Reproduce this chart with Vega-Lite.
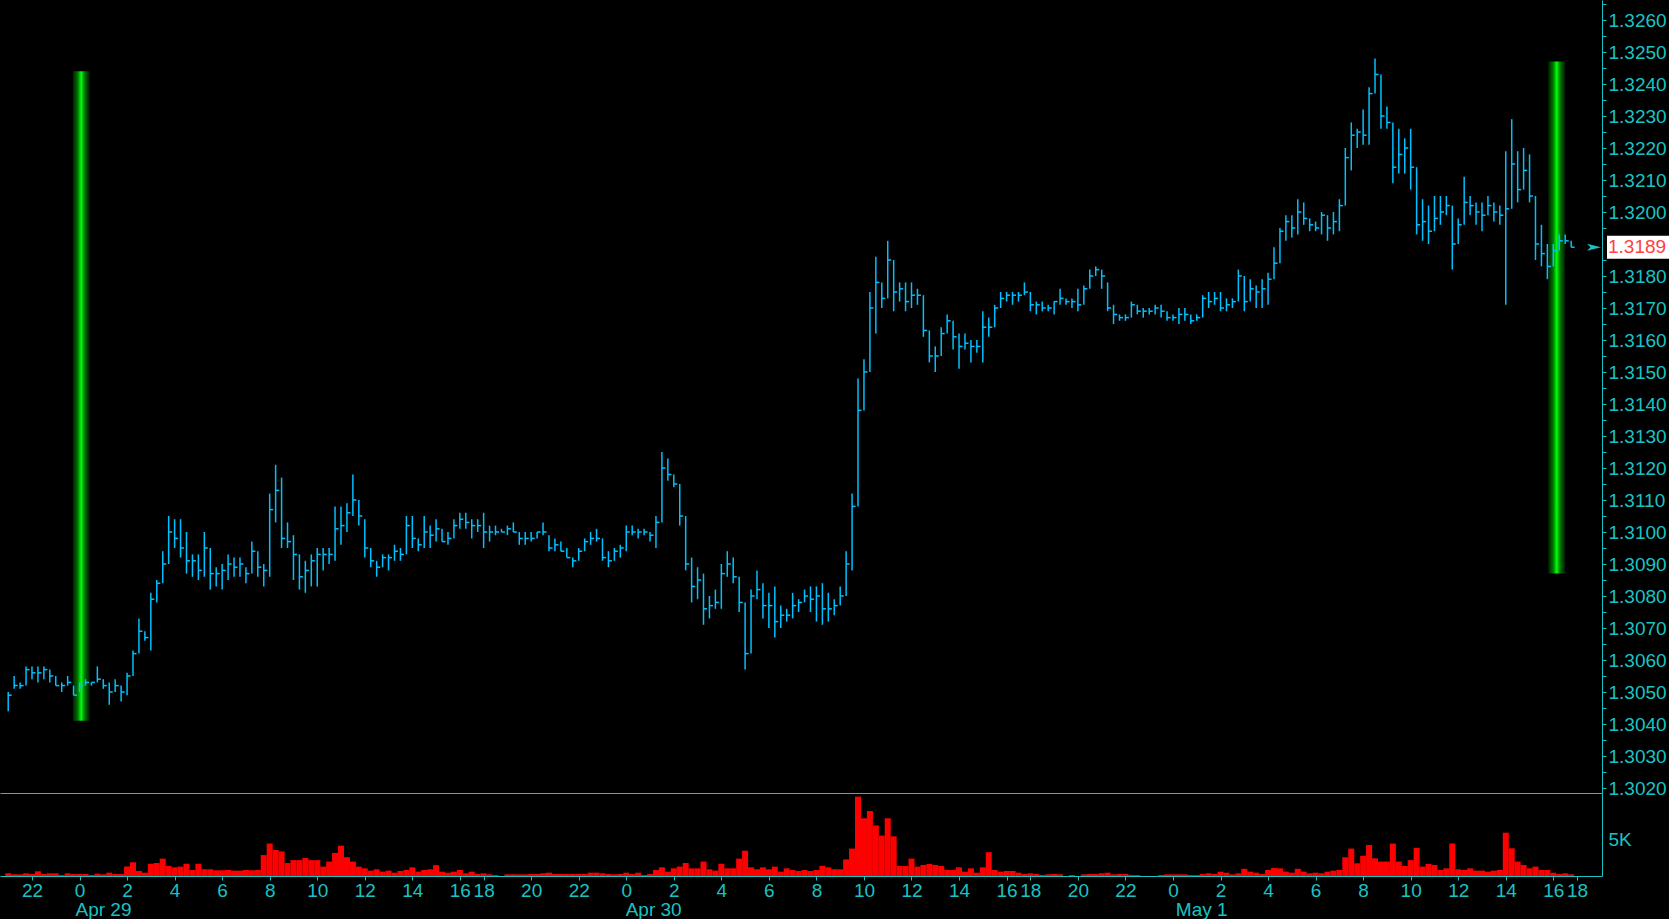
{
  "$schema": "https://vega.github.io/schema/vega-lite/v6.json",
  "description": "Intraday price bars with volume, Apr 29 - May 1, 15-minute bars",
  "background": "#000000",
  "padding": 0,
  "spacing": 0,
  "bounds": "flush",
  "config": {
    "view": {"stroke": null},
    "axis": {"labelFont": "Liberation Sans", "labelFontSize": 19, "labelColor": "#19c3c3", "domainColor": "#19c3c3", "tickColor": "#19c3c3", "grid": false, "title": null}
  },
  "datasets": {
    "bars": [
      {"t":-3,"h":1.305,"l":1.3044,"c":1.3049,"v":370},
      {"t":-2.75,"h":1.3055,"l":1.3051,"c":1.3052,"v":230},
      {"t":-2.5,"h":1.3053,"l":1.3051,"c":1.3052,"v":230},
      {"t":-2.25,"h":1.3058,"l":1.3052,"c":1.3057,"v":370},
      {"t":-2,"h":1.3058,"l":1.3054,"c":1.3056,"v":280},
      {"t":-1.75,"h":1.3058,"l":1.3053,"c":1.3056,"v":650},
      {"t":-1.5,"h":1.3058,"l":1.3054,"c":1.3057,"v":280},
      {"t":-1.25,"h":1.3057,"l":1.3053,"c":1.3055,"v":370},
      {"t":-1,"h":1.3055,"l":1.3052,"c":1.3052,"v":370},
      {"t":-0.75,"h":1.3053,"l":1.305,"c":1.3052,"v":140},
      {"t":-0.5,"h":1.3055,"l":1.3052,"c":1.3053,"v":370},
      {"t":-0.25,"h":1.3052,"l":1.3049,"c":1.3049,"v":280},
      {"t":0,"h":1.3053,"l":1.305,"c":1.3052,"v":280},
      {"t":0.25,"h":1.3054,"l":1.3052,"c":1.3053,"v":280},
      {"t":0.5,"h":1.3053,"l":1.3052,"c":1.3053,"v":140},
      {"t":0.75,"h":1.3058,"l":1.3053,"c":1.3054,"v":320},
      {"t":1,"h":1.3054,"l":1.3051,"c":1.3052,"v":230},
      {"t":1.25,"h":1.3053,"l":1.3046,"c":1.305,"v":460},
      {"t":1.5,"h":1.3054,"l":1.305,"c":1.3052,"v":280},
      {"t":1.75,"h":1.3052,"l":1.3047,"c":1.305,"v":280},
      {"t":2,"h":1.3056,"l":1.3049,"c":1.3055,"v":1300},
      {"t":2.25,"h":1.3063,"l":1.3055,"c":1.3062,"v":1900},
      {"t":2.5,"h":1.3073,"l":1.3062,"c":1.3069,"v":700},
      {"t":2.75,"h":1.3069,"l":1.3066,"c":1.3067,"v":460},
      {"t":3,"h":1.3081,"l":1.3063,"c":1.3079,"v":1700},
      {"t":3.25,"h":1.3085,"l":1.3078,"c":1.3084,"v":1800},
      {"t":3.5,"h":1.3094,"l":1.3084,"c":1.309,"v":2400},
      {"t":3.75,"h":1.3105,"l":1.309,"c":1.31,"v":1400},
      {"t":4,"h":1.3104,"l":1.3095,"c":1.3098,"v":1200},
      {"t":4.25,"h":1.3104,"l":1.3092,"c":1.3095,"v":1300},
      {"t":4.5,"h":1.31,"l":1.3087,"c":1.3091,"v":1700},
      {"t":4.75,"h":1.3093,"l":1.3086,"c":1.3091,"v":830},
      {"t":5,"h":1.3093,"l":1.3085,"c":1.3088,"v":1700},
      {"t":5.25,"h":1.31,"l":1.3086,"c":1.3095,"v":930},
      {"t":5.5,"h":1.3095,"l":1.3082,"c":1.3087,"v":930},
      {"t":5.75,"h":1.3089,"l":1.3083,"c":1.3087,"v":790},
      {"t":6,"h":1.309,"l":1.3082,"c":1.3088,"v":790},
      {"t":6.25,"h":1.3093,"l":1.3085,"c":1.309,"v":830},
      {"t":6.5,"h":1.3092,"l":1.3086,"c":1.3089,"v":740},
      {"t":6.75,"h":1.3092,"l":1.3086,"c":1.309,"v":740},
      {"t":7,"h":1.3089,"l":1.3084,"c":1.3087,"v":830},
      {"t":7.25,"h":1.3097,"l":1.3087,"c":1.3094,"v":790},
      {"t":7.5,"h":1.3094,"l":1.3086,"c":1.3089,"v":830},
      {"t":7.75,"h":1.309,"l":1.3083,"c":1.3088,"v":2900},
      {"t":8,"h":1.3112,"l":1.3086,"c":1.3107,"v":4500},
      {"t":8.25,"h":1.3121,"l":1.3103,"c":1.3113,"v":3600},
      {"t":8.5,"h":1.3117,"l":1.3095,"c":1.3098,"v":3400},
      {"t":8.75,"h":1.3103,"l":1.3095,"c":1.3097,"v":1800},
      {"t":9,"h":1.3099,"l":1.3085,"c":1.3093,"v":2200},
      {"t":9.25,"h":1.3093,"l":1.3082,"c":1.3086,"v":2200},
      {"t":9.5,"h":1.3091,"l":1.3081,"c":1.3088,"v":2500},
      {"t":9.75,"h":1.3093,"l":1.3083,"c":1.3091,"v":2200},
      {"t":10,"h":1.3095,"l":1.3083,"c":1.3093,"v":2200},
      {"t":10.25,"h":1.3095,"l":1.3088,"c":1.3093,"v":1300},
      {"t":10.5,"h":1.3095,"l":1.309,"c":1.3093,"v":2000},
      {"t":10.75,"h":1.3108,"l":1.3091,"c":1.3101,"v":3200},
      {"t":11,"h":1.3108,"l":1.3096,"c":1.3102,"v":4200},
      {"t":11.25,"h":1.3109,"l":1.31,"c":1.3106,"v":2600},
      {"t":11.5,"h":1.3118,"l":1.3105,"c":1.311,"v":2000},
      {"t":11.75,"h":1.311,"l":1.3102,"c":1.3105,"v":1300},
      {"t":12,"h":1.3104,"l":1.3092,"c":1.3095,"v":1060},
      {"t":12.25,"h":1.3095,"l":1.3089,"c":1.3091,"v":740},
      {"t":12.5,"h":1.3091,"l":1.3086,"c":1.3089,"v":930},
      {"t":12.75,"h":1.3093,"l":1.3089,"c":1.3092,"v":600},
      {"t":13,"h":1.3093,"l":1.3088,"c":1.3092,"v":740},
      {"t":13.25,"h":1.3096,"l":1.3091,"c":1.3094,"v":460},
      {"t":13.5,"h":1.3095,"l":1.3091,"c":1.3093,"v":690},
      {"t":13.75,"h":1.3105,"l":1.3093,"c":1.3102,"v":830},
      {"t":14,"h":1.3105,"l":1.3095,"c":1.3098,"v":1200},
      {"t":14.25,"h":1.3098,"l":1.3094,"c":1.3096,"v":600},
      {"t":14.5,"h":1.3105,"l":1.3095,"c":1.31,"v":830},
      {"t":14.75,"h":1.3102,"l":1.3095,"c":1.3099,"v":930},
      {"t":15,"h":1.3104,"l":1.3097,"c":1.3101,"v":1500},
      {"t":15.25,"h":1.3101,"l":1.3097,"c":1.3097,"v":600},
      {"t":15.5,"h":1.31,"l":1.3096,"c":1.3098,"v":460},
      {"t":15.75,"h":1.3104,"l":1.3098,"c":1.3102,"v":600},
      {"t":16,"h":1.3106,"l":1.3101,"c":1.3104,"v":830},
      {"t":16.25,"h":1.3106,"l":1.3101,"c":1.3103,"v":370},
      {"t":16.5,"h":1.3104,"l":1.3098,"c":1.3102,"v":600},
      {"t":16.75,"h":1.3104,"l":1.31,"c":1.3102,"v":280},
      {"t":17,"h":1.3106,"l":1.3095,"c":1.31,"v":370},
      {"t":17.25,"h":1.3102,"l":1.3097,"c":1.31,"v":230},
      {"t":17.5,"h":1.3102,"l":1.3099,"c":1.31,"v":140},
      {"t":17.75,"h":1.3101,"l":1.31,"c":1.31,"v":0},
      {"t":18,"h":1.3102,"l":1.3099,"c":1.3101,"v":230},
      {"t":18.25,"h":1.3103,"l":1.31,"c":1.31,"v":230},
      {"t":18.5,"h":1.31,"l":1.3096,"c":1.3098,"v":230},
      {"t":18.75,"h":1.31,"l":1.3096,"c":1.3098,"v":230},
      {"t":19,"h":1.31,"l":1.3097,"c":1.3098,"v":280},
      {"t":19.25,"h":1.31,"l":1.3098,"c":1.31,"v":280},
      {"t":19.5,"h":1.3103,"l":1.3099,"c":1.31,"v":370},
      {"t":19.75,"h":1.3099,"l":1.3094,"c":1.3095,"v":460},
      {"t":20,"h":1.3098,"l":1.3094,"c":1.3096,"v":280},
      {"t":20.25,"h":1.3097,"l":1.3094,"c":1.3094,"v":280},
      {"t":20.5,"h":1.3095,"l":1.3092,"c":1.3092,"v":280},
      {"t":20.75,"h":1.3092,"l":1.3089,"c":1.3091,"v":280},
      {"t":21,"h":1.3095,"l":1.3091,"c":1.3094,"v":280},
      {"t":21.25,"h":1.3098,"l":1.3094,"c":1.3097,"v":280},
      {"t":21.5,"h":1.31,"l":1.3096,"c":1.3098,"v":460},
      {"t":21.75,"h":1.3101,"l":1.3097,"c":1.3098,"v":460},
      {"t":22,"h":1.3098,"l":1.3091,"c":1.3092,"v":370},
      {"t":22.25,"h":1.3094,"l":1.3089,"c":1.3091,"v":280},
      {"t":22.5,"h":1.3095,"l":1.3091,"c":1.3094,"v":230},
      {"t":22.75,"h":1.3096,"l":1.3092,"c":1.3095,"v":280},
      {"t":23,"h":1.3102,"l":1.3094,"c":1.31,"v":460},
      {"t":23.25,"h":1.3102,"l":1.3099,"c":1.31,"v":280},
      {"t":23.5,"h":1.3101,"l":1.3098,"c":1.31,"v":460},
      {"t":23.75,"h":1.3101,"l":1.3099,"c":1.31,"v":140},
      {"t":24,"h":1.31,"l":1.3097,"c":1.3099,"v":280},
      {"t":24.25,"h":1.3105,"l":1.3095,"c":1.3103,"v":830},
      {"t":24.5,"h":1.3125,"l":1.3103,"c":1.312,"v":1200},
      {"t":24.75,"h":1.3123,"l":1.3116,"c":1.3118,"v":600},
      {"t":25,"h":1.3118,"l":1.3114,"c":1.3115,"v":1060},
      {"t":25.25,"h":1.3115,"l":1.3102,"c":1.3105,"v":1300},
      {"t":25.5,"h":1.3105,"l":1.3088,"c":1.309,"v":1800},
      {"t":25.75,"h":1.3092,"l":1.3078,"c":1.3083,"v":1060},
      {"t":26,"h":1.3089,"l":1.3079,"c":1.3085,"v":1060},
      {"t":26.25,"h":1.3087,"l":1.3071,"c":1.3076,"v":2000},
      {"t":26.5,"h":1.308,"l":1.3073,"c":1.3077,"v":930},
      {"t":26.75,"h":1.3082,"l":1.3076,"c":1.3078,"v":740},
      {"t":27,"h":1.309,"l":1.3076,"c":1.3087,"v":1700},
      {"t":27.25,"h":1.3094,"l":1.3086,"c":1.309,"v":1060},
      {"t":27.5,"h":1.3092,"l":1.3084,"c":1.3086,"v":1060},
      {"t":27.75,"h":1.3086,"l":1.3075,"c":1.3078,"v":2400},
      {"t":28,"h":1.3078,"l":1.3057,"c":1.3062,"v":3500},
      {"t":28.25,"h":1.3082,"l":1.3062,"c":1.308,"v":1200},
      {"t":28.5,"h":1.3088,"l":1.3079,"c":1.3082,"v":930},
      {"t":28.75,"h":1.3084,"l":1.3073,"c":1.3077,"v":1200},
      {"t":29,"h":1.3081,"l":1.307,"c":1.3077,"v":930},
      {"t":29.25,"h":1.3083,"l":1.3067,"c":1.3072,"v":1300},
      {"t":29.5,"h":1.3077,"l":1.307,"c":1.3074,"v":600},
      {"t":29.75,"h":1.3076,"l":1.3072,"c":1.3074,"v":1060},
      {"t":30,"h":1.3081,"l":1.3073,"c":1.3077,"v":830},
      {"t":30.25,"h":1.3079,"l":1.3075,"c":1.3078,"v":690},
      {"t":30.5,"h":1.3082,"l":1.3078,"c":1.308,"v":830},
      {"t":30.75,"h":1.3083,"l":1.3075,"c":1.3079,"v":690},
      {"t":31,"h":1.3083,"l":1.3072,"c":1.308,"v":830},
      {"t":31.25,"h":1.3084,"l":1.3071,"c":1.3076,"v":1400},
      {"t":31.5,"h":1.3081,"l":1.3072,"c":1.3076,"v":1200},
      {"t":31.75,"h":1.3079,"l":1.3074,"c":1.3077,"v":930},
      {"t":32,"h":1.3083,"l":1.3077,"c":1.308,"v":930},
      {"t":32.25,"h":1.3094,"l":1.308,"c":1.309,"v":2300},
      {"t":32.5,"h":1.3112,"l":1.3088,"c":1.3108,"v":3800},
      {"t":32.75,"h":1.3148,"l":1.3108,"c":1.3138,"v":11000},
      {"t":33,"h":1.3154,"l":1.3138,"c":1.315,"v":8000},
      {"t":33.25,"h":1.3175,"l":1.315,"c":1.317,"v":9000},
      {"t":33.5,"h":1.3186,"l":1.3162,"c":1.3178,"v":7000},
      {"t":33.75,"h":1.3178,"l":1.317,"c":1.3173,"v":5600},
      {"t":34,"h":1.3191,"l":1.3173,"c":1.3185,"v":8000},
      {"t":34.25,"h":1.3185,"l":1.3169,"c":1.3175,"v":5500},
      {"t":34.5,"h":1.3178,"l":1.3172,"c":1.3176,"v":1400},
      {"t":34.75,"h":1.3178,"l":1.3169,"c":1.3172,"v":1400},
      {"t":35,"h":1.3178,"l":1.317,"c":1.3174,"v":2400},
      {"t":35.25,"h":1.3176,"l":1.3171,"c":1.3174,"v":1300},
      {"t":35.5,"h":1.3174,"l":1.3161,"c":1.3163,"v":1530},
      {"t":35.75,"h":1.3163,"l":1.3153,"c":1.3155,"v":1670},
      {"t":36,"h":1.3158,"l":1.315,"c":1.3155,"v":1530},
      {"t":36.25,"h":1.3164,"l":1.3155,"c":1.3162,"v":1390},
      {"t":36.5,"h":1.3168,"l":1.3162,"c":1.3166,"v":830},
      {"t":36.75,"h":1.3166,"l":1.3157,"c":1.3161,"v":830},
      {"t":37,"h":1.3162,"l":1.3151,"c":1.3158,"v":1200},
      {"t":37.25,"h":1.3162,"l":1.3157,"c":1.3159,"v":600},
      {"t":37.5,"h":1.316,"l":1.3153,"c":1.3158,"v":1060},
      {"t":37.75,"h":1.316,"l":1.3156,"c":1.3158,"v":460},
      {"t":38,"h":1.3169,"l":1.3153,"c":1.3164,"v":1200},
      {"t":38.25,"h":1.3167,"l":1.3161,"c":1.3164,"v":3300},
      {"t":38.5,"h":1.3171,"l":1.3164,"c":1.317,"v":830},
      {"t":38.75,"h":1.3175,"l":1.317,"c":1.3173,"v":600},
      {"t":39,"h":1.3175,"l":1.3172,"c":1.3174,"v":690},
      {"t":39.25,"h":1.3175,"l":1.3171,"c":1.3174,"v":690},
      {"t":39.5,"h":1.3175,"l":1.3172,"c":1.3174,"v":460},
      {"t":39.75,"h":1.3178,"l":1.3174,"c":1.3175,"v":280},
      {"t":40,"h":1.3175,"l":1.3169,"c":1.3171,"v":370},
      {"t":40.25,"h":1.3172,"l":1.3168,"c":1.3171,"v":280},
      {"t":40.5,"h":1.3172,"l":1.3169,"c":1.317,"v":140},
      {"t":40.75,"h":1.3171,"l":1.3169,"c":1.317,"v":230},
      {"t":41,"h":1.3172,"l":1.3168,"c":1.3172,"v":280},
      {"t":41.25,"h":1.3176,"l":1.3171,"c":1.3173,"v":230},
      {"t":41.5,"h":1.3173,"l":1.3171,"c":1.3172,"v":0},
      {"t":41.75,"h":1.3173,"l":1.317,"c":1.3172,"v":140},
      {"t":42,"h":1.3176,"l":1.3169,"c":1.3171,"v":0},
      {"t":42.25,"h":1.3177,"l":1.3171,"c":1.3176,"v":230},
      {"t":42.5,"h":1.3182,"l":1.3176,"c":1.318,"v":280},
      {"t":42.75,"h":1.3183,"l":1.318,"c":1.3182,"v":280},
      {"t":43,"h":1.3182,"l":1.3176,"c":1.318,"v":370},
      {"t":43.25,"h":1.3178,"l":1.3169,"c":1.317,"v":460},
      {"t":43.5,"h":1.3171,"l":1.3165,"c":1.3168,"v":230},
      {"t":43.75,"h":1.3168,"l":1.3166,"c":1.3167,"v":280},
      {"t":44,"h":1.3168,"l":1.3166,"c":1.3167,"v":280},
      {"t":44.25,"h":1.3172,"l":1.3167,"c":1.3171,"v":140},
      {"t":44.5,"h":1.3171,"l":1.3168,"c":1.3169,"v":140},
      {"t":44.75,"h":1.317,"l":1.3167,"c":1.3169,"v":0},
      {"t":45,"h":1.317,"l":1.3168,"c":1.3169,"v":0},
      {"t":45.25,"h":1.3171,"l":1.3168,"c":1.317,"v":0},
      {"t":45.5,"h":1.3171,"l":1.3167,"c":1.3169,"v":140},
      {"t":45.75,"h":1.3169,"l":1.3166,"c":1.3167,"v":230},
      {"t":46,"h":1.3168,"l":1.3166,"c":1.3167,"v":230},
      {"t":46.25,"h":1.317,"l":1.3165,"c":1.3168,"v":230},
      {"t":46.5,"h":1.317,"l":1.3166,"c":1.3168,"v":230},
      {"t":46.75,"h":1.3168,"l":1.3165,"c":1.3166,"v":140},
      {"t":47,"h":1.3168,"l":1.3166,"c":1.3167,"v":140},
      {"t":47.25,"h":1.3174,"l":1.3167,"c":1.3173,"v":280},
      {"t":47.5,"h":1.3175,"l":1.317,"c":1.3172,"v":370},
      {"t":47.75,"h":1.3175,"l":1.3171,"c":1.3173,"v":280},
      {"t":48,"h":1.3175,"l":1.3169,"c":1.317,"v":600},
      {"t":48.25,"h":1.3173,"l":1.3169,"c":1.3171,"v":460},
      {"t":48.5,"h":1.3173,"l":1.317,"c":1.3172,"v":230},
      {"t":48.75,"h":1.3182,"l":1.3172,"c":1.318,"v":370},
      {"t":49,"h":1.318,"l":1.3169,"c":1.3172,"v":1000},
      {"t":49.25,"h":1.3179,"l":1.3172,"c":1.3176,"v":600},
      {"t":49.5,"h":1.3177,"l":1.317,"c":1.3175,"v":460},
      {"t":49.75,"h":1.3179,"l":1.317,"c":1.3176,"v":280},
      {"t":50,"h":1.3181,"l":1.3171,"c":1.3179,"v":830},
      {"t":50.25,"h":1.3189,"l":1.3179,"c":1.3184,"v":1100},
      {"t":50.5,"h":1.3195,"l":1.3184,"c":1.3194,"v":1060},
      {"t":50.75,"h":1.3199,"l":1.3191,"c":1.3197,"v":600},
      {"t":51,"h":1.3199,"l":1.3192,"c":1.3195,"v":460},
      {"t":51.25,"h":1.3204,"l":1.3193,"c":1.32,"v":1000},
      {"t":51.5,"h":1.3203,"l":1.3196,"c":1.3198,"v":600},
      {"t":51.75,"h":1.3198,"l":1.3194,"c":1.3196,"v":370},
      {"t":52,"h":1.3197,"l":1.3194,"c":1.3195,"v":460},
      {"t":52.25,"h":1.32,"l":1.3193,"c":1.3199,"v":370},
      {"t":52.5,"h":1.3199,"l":1.3191,"c":1.3195,"v":600},
      {"t":52.75,"h":1.32,"l":1.3193,"c":1.3197,"v":740},
      {"t":53,"h":1.3204,"l":1.3194,"c":1.3202,"v":830},
      {"t":53.25,"h":1.322,"l":1.3202,"c":1.3217,"v":2600},
      {"t":53.5,"h":1.3228,"l":1.3213,"c":1.3224,"v":3800},
      {"t":53.75,"h":1.3226,"l":1.322,"c":1.3225,"v":1760},
      {"t":54,"h":1.3232,"l":1.3221,"c":1.3224,"v":2800},
      {"t":54.25,"h":1.3239,"l":1.3221,"c":1.3237,"v":4300},
      {"t":54.5,"h":1.3248,"l":1.3237,"c":1.3243,"v":2450},
      {"t":54.75,"h":1.3243,"l":1.3226,"c":1.323,"v":2000},
      {"t":55,"h":1.3233,"l":1.3226,"c":1.3228,"v":2000},
      {"t":55.25,"h":1.3228,"l":1.3209,"c":1.3214,"v":4500},
      {"t":55.5,"h":1.3226,"l":1.3212,"c":1.3218,"v":2000},
      {"t":55.75,"h":1.3223,"l":1.3212,"c":1.322,"v":1390},
      {"t":56,"h":1.3226,"l":1.3207,"c":1.3214,"v":2200},
      {"t":56.25,"h":1.3214,"l":1.3193,"c":1.3196,"v":3900},
      {"t":56.5,"h":1.3204,"l":1.3191,"c":1.3197,"v":1300},
      {"t":56.75,"h":1.3202,"l":1.319,"c":1.3194,"v":1670},
      {"t":57,"h":1.3205,"l":1.3194,"c":1.3198,"v":1530},
      {"t":57.25,"h":1.3205,"l":1.3196,"c":1.32,"v":830},
      {"t":57.5,"h":1.3205,"l":1.3199,"c":1.3202,"v":1060},
      {"t":57.75,"h":1.3202,"l":1.3182,"c":1.319,"v":4500},
      {"t":58,"h":1.3198,"l":1.319,"c":1.3196,"v":925},
      {"t":58.25,"h":1.3211,"l":1.3196,"c":1.3203,"v":830},
      {"t":58.5,"h":1.3205,"l":1.3199,"c":1.3202,"v":1060},
      {"t":58.75,"h":1.3203,"l":1.3196,"c":1.32,"v":740},
      {"t":59,"h":1.3203,"l":1.3194,"c":1.3199,"v":740},
      {"t":59.25,"h":1.3205,"l":1.3199,"c":1.3202,"v":600},
      {"t":59.5,"h":1.3203,"l":1.3197,"c":1.32,"v":740},
      {"t":59.75,"h":1.3202,"l":1.3196,"c":1.3199,"v":830},
      {"t":60,"h":1.3219,"l":1.3171,"c":1.3201,"v":6000},
      {"t":60.25,"h":1.3229,"l":1.3201,"c":1.3215,"v":3840},
      {"t":60.5,"h":1.3219,"l":1.3203,"c":1.3207,"v":2000},
      {"t":60.75,"h":1.322,"l":1.3207,"c":1.3213,"v":1530},
      {"t":61,"h":1.3218,"l":1.3203,"c":1.3205,"v":1060},
      {"t":61.25,"h":1.3205,"l":1.3185,"c":1.319,"v":1300},
      {"t":61.5,"h":1.3196,"l":1.3183,"c":1.3187,"v":830},
      {"t":61.75,"h":1.319,"l":1.3179,"c":1.3183,"v":830},
      {"t":62,"h":1.319,"l":1.3183,"c":1.3188,"v":460},
      {"t":62.25,"h":1.3193,"l":1.3188,"c":1.3191,"v":280},
      {"t":62.5,"h":1.3193,"l":1.319,"c":1.3191,"v":370},
      {"t":62.75,"h":1.3191,"l":1.3189,"c":1.3189,"v":230}
    ],
    "markers": [
      {"t":0.07,"top":1.3244,"bot":1.3041},
      {"t":62.14,"top":1.3247,"bot":1.3087}
    ],
    "last": [{"last":1.3189}],
    "days": [
      {"t":0,"d":"Apr 29"},
      {"t":23,"d":"Apr 30"},
      {"t":46,"d":"May 1"}
    ]
  },
  "vconcat": [
    {
      "width": 1602,
      "height": 793,
      "layer": [
        {
          "layer": [
            {
              "data": {"name": "markers"},
              "mark": {
                "type": "bar",
                "width": 17,
                "opacity": 1,
                "color": {
                  "gradient": "linear", "x1": 0, "x2": 1, "y1": 0, "y2": 0,
                  "stops": [
                    {"offset": 0, "color": "#001a00"},
                    {"offset": 0.3, "color": "#007800"},
                    {"offset": 0.5, "color": "#00ff10"},
                    {"offset": 0.7, "color": "#007800"},
                    {"offset": 1, "color": "#001a00"}
                  ]
                }
              },
              "encoding": {
                "x": {
                  "field": "t", "type": "quantitative",
                  "scale": {"domain": [-3.135, 63.838], "nice": false, "zero": false},
                  "axis": {"orient": "bottom", "labels": false, "ticks": false, "domainColor": "#19c3c3"}
                },
                "y": {
                  "field": "top", "type": "quantitative",
                  "scale": {"domain": [1.301844, 1.326625], "nice": false, "zero": false},
                  "axis": {
                    "orient": "right",
                    "values": [1.302,1.304,1.306,1.308,1.31,1.312,1.314,1.316,1.318,1.32,1.322,1.324,1.326],
                    "format": ".4f",
                    "tickSize": 4,
                    "labelPadding": 2,
                    "labelOverlap": false,
                    "labelBound": false,
                    "labelFlush": false
                  }
                },
                "y2": {"field": "bot"}
              }
            },
            {
              "data": {"name": "bars"},
              "mark": {"type": "rule", "color": "#00c0ff", "strokeWidth": 1.5},
              "encoding": {
                "x": {"field": "t", "type": "quantitative"},
                "y": {"field": "l", "type": "quantitative"},
                "y2": {"field": "h"}
              }
            },
            {
              "data": {"name": "bars"},
              "mark": {"type": "tick", "orient": "horizontal", "size": 3.5, "thickness": 1.5, "xOffset": 1.75, "color": "#00c0ff", "opacity": 1},
              "encoding": {
                "x": {"field": "t", "type": "quantitative"},
                "y": {"field": "c", "type": "quantitative"}
              }
            },
            {
              "data": {"name": "last"},
              "mark": {"type": "point", "shape": "M-1,-0.36L1,-0.36L1,0.36L-1,0.36Z", "size": 4096, "filled": true, "color": "#ffffff", "opacity": 1, "xOffset": 37},
              "encoding": {
                "x": {"value": "width"},
                "y": {"field": "last", "type": "quantitative"}
              }
            },
            {
              "data": {"name": "last"},
              "mark": {"type": "text", "align": "left", "baseline": "middle", "dx": 6, "font": "Liberation Sans", "fontSize": 19, "color": "#ff4040"},
              "encoding": {
                "x": {"value": "width"},
                "y": {"field": "last", "type": "quantitative"},
                "text": {"field": "last", "format": ".4f"}
              }
            },
            {
              "data": {"name": "last"},
              "mark": {"type": "point", "shape": "M-1,-0.5L1,0L-1,0.5L-0.5,0Z", "size": 196, "filled": true, "color": "#19c3c3", "opacity": 1, "xOffset": -8},
              "encoding": {
                "x": {"value": "width"},
                "y": {"field": "last", "type": "quantitative"}
              }
            }
          ]
        },
        {
          "data": {"name": "markers"},
          "mark": {"type": "text", "text": ""},
          "encoding": {
            "y": {
              "field": "top", "type": "quantitative",
              "scale": {"domain": [1.301844, 1.326625], "nice": false, "zero": false},
              "axis": {
                "orient": "right",
                "values": [1.303,1.305,1.307,1.309,1.311,1.313,1.315,1.317,1.321,1.323,1.325],
                "format": ".4f",
                "domain": false,
                "tickSize": 4,
                "labelPadding": 2,
                "labelOverlap": false,
                "labelBound": false,
                "labelFlush": false
              }
            }
          }
        },
        {
          "data": {"name": "markers"},
          "mark": {"type": "text", "text": ""},
          "encoding": {
            "y": {
              "field": "top", "type": "quantitative",
              "scale": {"domain": [1.301844, 1.326625], "nice": false, "zero": false},
              "axis": {
                "orient": "right",
                "values": [1.3025,1.3035,1.3045,1.3055,1.3065,1.3075,1.3085,1.3095,1.3105,1.3115,1.3125,1.3135,1.3145,1.3155,1.3165,1.3175,1.3185,1.3195,1.3205,1.3215,1.3225,1.3235,1.3245,1.3255,1.3265],
                "labels": false,
                "domain": false,
                "tickSize": 4
              }
            }
          }
        }
      ],
      "resolve": {"scale": {"y": "independent"}, "axis": {"y": "independent"}}
    },
    {
      "width": 1602,
      "height": 83,
      "layer": [
        {
          "data": {"name": "bars"},
          "mark": {"type": "bar", "width": 6, "color": "#ff0000", "opacity": 1},
          "encoding": {
            "x": {
              "field": "t", "type": "quantitative",
              "scale": {"domain": [-3.135, 63.838], "nice": false, "zero": false},
              "axis": {
                "orient": "bottom",
                "values": [-2,0,2,4,6,8,10,12,14,16,17,19,21,23,25,27,29,31,33,35,37,39,40,42,44,46,48,50,52,54,56,58,60,62,63],
                "labelExpr": "datum.value <= 16 ? '' + ((datum.value + 24) % 24) : datum.value <= 39 ? '' + ((datum.value + 25) % 24) : datum.value <= 62 ? '' + ((datum.value + 26) % 24) : '' + ((datum.value + 27) % 24)",
                "tickSize": 4,
                "labelPadding": 1,
                "labelOverlap": false,
                "labelFlush": false,
                "labelBound": false
              }
            },
            "y": {
              "field": "v", "type": "quantitative",
              "scale": {"domain": [0, 11500], "nice": false},
              "axis": {"orient": "right", "values": [5000], "labelExpr": "'5K'", "tickSize": 0, "labelPadding": 6}
            }
          }
        },
        {
          "data": {"name": "days"},
          "mark": {"type": "text", "text": ""},
          "encoding": {
            "x": {
              "field": "t", "type": "quantitative",
              "scale": {"domain": [-3.135, 63.838], "nice": false, "zero": false},
              "axis": {
                "orient": "bottom",
                "values": [0, 23, 46],
                "labelExpr": "datum.value < 10 ? 'Apr 29' : datum.value < 30 ? 'Apr 30' : 'May 1'",
                "labelAlign": "left",
                "ticks": false,
                "domain": false,
                "labelPadding": 24,
                "labelOverlap": false,
                "labelFlush": false,
                "labelBound": false
              }
            }
          }
        }
      ],
      "resolve": {"scale": {"x": "independent"}, "axis": {"x": "independent"}}
    }
  ]
}
